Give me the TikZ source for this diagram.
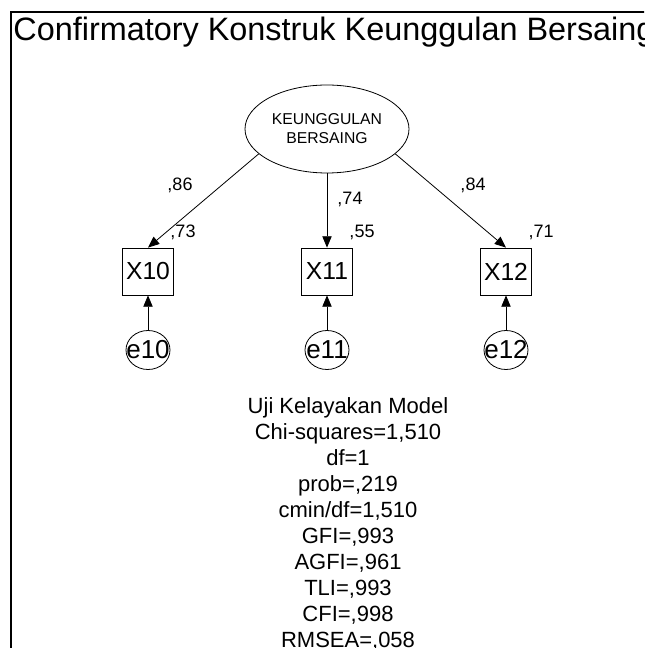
\documentclass[tikz,border=0pt]{standalone}
\usepackage{fontspec}
\setmainfont{Liberation Sans}
\usetikzlibrary{shapes.geometric,arrows.meta}

\tikzset{
  latent/.style={draw,ellipse,minimum width=123pt,minimum height=66pt,inner sep=0pt,align=center,font=\fontsize{11.8}{14.25}\selectfont},
  obs/.style={draw,rectangle,minimum width=38.25pt,minimum height=35.25pt,inner sep=0pt,font=\fontsize{18.5}{20}\selectfont},
  err/.style={draw,ellipse,minimum width=33pt,minimum height=29.25pt,inner sep=0pt,font=\fontsize{19.5}{20}\selectfont},
  coef/.style={inner sep=0pt,font=\fontsize{13.5}{16}\selectfont},
  arr/.style={-{Triangle[length=8.5pt,width=7pt]},line width=0.6pt},
}

\begin{document}
\begin{tikzpicture}[x=0.75pt,y=-0.75pt,line width=0.6pt]
    \useasboundingbox (0,0) rectangle (644,648);
    \clip (0,0) rectangle (644,648);

% frame and title
    \draw[line width=1.5pt] (11,652) -- (11,12) -- (648,12);
    \node[anchor=base west,inner sep=0pt,font=\fontsize{24.3}{28}\selectfont] (title) at (13,41) {Confirmatory Konstruk Keunggulan Bersaing};

    \node[latent] (ksi) at (327,129) {KEUNGGULAN\\BERSAING};

% indicator / error / loading / r2
      \foreach \n/\x/\ang/\lx/\ly/\load/\rsq in {
		  10/148/200/180/185/86/73,
		  11/327/270/350/199/74/55,
		  12/506/340/473/185/84/71}
	  {
		\node[obs] (x\n) at (\x,271.5) {X\n};
		\node[err] (e\n) at (\x,350) {\makebox[0pt]{e\n}};
		\draw[arr] (ksi.\ang) -- (x\n.north);
		\draw[arr] (e\n) -- (x\n);
		\node[coef] (l\n) at (\lx,\ly) {,\load};
		\node[coef] (r\n) at (\x+35,232) {,\rsq};
	  };

    \node[anchor=north,inner sep=0pt,align=center,font=\fontsize{16.5}{19.5}\selectfont] (gof) at (348,397)
      {Uji Kelayakan Model\\Chi-squares=1,510\\df=1\\prob=,219\\cmin/df=1,510\\GFI=,993\\AGFI=,961\\TLI=,993\\CFI=,998\\RMSEA=,058};

    \end{tikzpicture}
\end{document}
